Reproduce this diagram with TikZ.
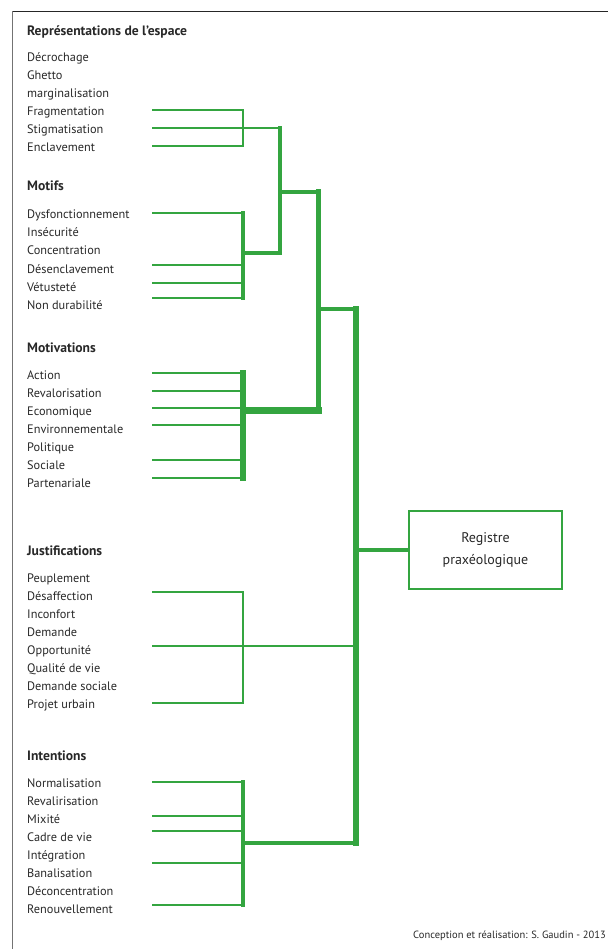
\documentclass[tikz,border=0pt]{standalone}
\usepackage{fontspec}
\setmainfont{PT Sans}
\definecolor{grn}{RGB}{52,165,64}
\definecolor{txt}{RGB}{40,40,40}
\begin{document}
\begin{tikzpicture}[x=1pt,y=-1pt,
  item/.style={anchor=base west, inner sep=0pt, text=txt, font=\fontsize{12.3}{14}\selectfont},
  head/.style={anchor=base west, inner sep=0pt, text=txt, font=\bfseries\fontsize{13.6}{15}\selectfont},
  ln/.style={draw=grn, line width=#1, line cap=rect},
  ln/.default=1.5pt,
  regbox/.style={draw=grn, line width=1.2pt, minimum width=153pt, minimum height=78pt, align=center, text=txt, font=\fontsize{14}{22}\selectfont}]
\useasboundingbox (0,0) rectangle (608,949);
% frame
\coordinate (fTL) at (12.5,11.5);
\coordinate (fTR) at (608,11.5);
\coordinate (fBL) at (12.5,949);
\draw[line width=1.4pt, draw=black!85] (fTL) -- (fTR);
\draw[line width=1.6pt, draw=black!55] (fTL) -- (fBL);

% ---------- Représentations de l'espace
\node[head] (hR) at (27,36) {Représentations de l’espace};
\node[item] (r1) at (27,62) {Décrochage};
\node[item] (r2) at (27,80) {Ghetto};
\node[item] (r3) at (27,98) {marginalisation};
\node[item] (r4) at (27,116) {Fragmentation};
\node[item] (r5) at (27,134) {Stigmatisation};
\node[item] (r6) at (27,152) {Enclavement};
% ---------- Motifs
\node[head] (hM) at (27,191) {Motifs};
\node[item] (m1) at (27,219) {Dysfonctionnement};
\node[item] (m2) at (27,237) {Insécurité};
\node[item] (m3) at (27,255) {Concentration};
\node[item] (m4) at (27,273) {Désenclavement};
\node[item] (m5) at (27,291) {Vétusteté};
\node[item] (m6) at (27,309) {Non durabilité};
% ---------- Motivations
\node[head] (hV) at (27,352) {Motivations};
\node[item] (v1) at (27,379) {Action};
\node[item] (v2) at (27,397) {Revalorisation};
\node[item] (v3) at (27,415) {Economique};
\node[item] (v4) at (27,433) {Environnementale};
\node[item] (v5) at (27,451) {Politique};
\node[item] (v6) at (27,469) {Sociale};
\node[item] (v7) at (27,487) {Partenariale};
% ---------- Justifications
\node[head] (hJ) at (27,555) {Justifications};
\node[item] (j1) at (27,582) {Peuplement};
\node[item] (j2) at (27,600) {Désaffection};
\node[item] (j3) at (27,618) {Inconfort};
\node[item] (j4) at (27,636) {Demande};
\node[item] (j5) at (27,654) {Opportunité};
\node[item] (j6) at (27,672) {Qualité de vie};
\node[item] (j7) at (27,690) {Demande sociale};
\node[item] (j8) at (27,708) {Projet urbain};
% ---------- Intentions
\node[head] (hI) at (27,760) {Intentions};
\node[item] (i1) at (27,787) {Normalisation};
\node[item] (i2) at (27,805) {Revalirisation};
\node[item] (i3) at (27,823) {Mixité};
\node[item] (i4) at (27,841) {Cadre de vie};
\node[item] (i5) at (27,859) {Intégration};
\node[item] (i6) at (27,877) {Banalisation};
\node[item] (i7) at (27,895) {Déconcentration};
\node[item] (i8) at (27,913) {Renouvellement};

% ---------- box
\node[regbox] (reg) at (485.5,550) {Registre\\praxéologique};

% ---------- credit
\node[anchor=base east, inner sep=0pt, text=txt, font=\fontsize{10.5}{12}\selectfont] (cred) at (606,938) {Conception et réalisation: S. Gaudin - 2013};

% ---------- item connectors
\foreach \n/\y in {ra/110, rb/128, rc/146,
                   ma/213, mb/265, mc/283, md/298,
                   va/373, vb/391, vc/408, vd/425, ve/460, vf/478,
                   ja/592, jb/646, jc/703,
                   ia/782, ib/816, ic/831, id/863, ie/905}
{
  \coordinate (\n s) at (153,\y);
  \coordinate (\n b) at (243,\y);
  \draw[ln] (\n s) -- (\n b);
}
% bars
\draw[ln=1.5pt] (rab) -- (rcb);
\draw[ln=3.4pt] (mab) -- (mdb);
\draw[ln=6pt] (vab) -- (vfb);
\draw[ln=1.5pt] (jab) -- (jcb);
\draw[ln=4pt] (iab) -- (ieb);

% junctions
\coordinate (mJ) at (243,253);
\coordinate (vJ) at (243,410);
\coordinate (iJ) at (243,843);
\coordinate (k1t) at (280,128);
\coordinate (k1b) at (280,253);
\coordinate (k1m) at (280,192);
\coordinate (k2t) at (318,192);
\coordinate (k2b) at (318,410);
\coordinate (k2m) at (318,309);
\coordinate (k3t) at (356,309);
\coordinate (k3b) at (356,843);
\coordinate (k3j) at (356,646);
\coordinate (k3r) at (356,550);

\draw[ln=1.8pt] (rbb) -- (k1t);
\draw[ln=3.2pt] (k1t) -- (k1b);
\draw[ln=4pt] (mJ) -- (k1b);
\draw[ln=4pt] (k1m) -- (k2t);
\draw[ln=5pt] (k2t) -- (k2b);
\draw[ln=7pt] (vJ) -- (k2b);
\draw[ln=4pt] (k2m) -- (k3t);
\draw[ln=5.5pt] (k3t) -- (k3b);
\draw[ln=4.5pt] (iJ) -- (k3b);
\draw[ln=1.5pt] (jbb) -- (k3j);
\draw[draw=grn, line width=4.5pt] (k3r) -- (reg.west);
\end{tikzpicture}
\end{document}
